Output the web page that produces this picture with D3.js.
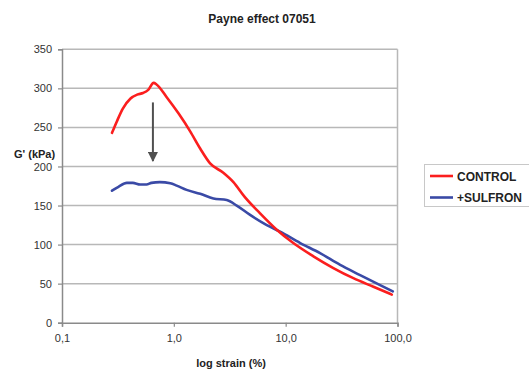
<!DOCTYPE html>
<html><head><meta charset="utf-8">
<script src="https://cdn.jsdelivr.net/npm/d3@7"></script>
<style>body{margin:0;background:#fff}svg{display:block}text{font-family:"Liberation Sans",Arial,sans-serif}</style>
</head><body>
<script>
const title = "Payne effect 07051";
const yLabel = "G' (kPa)";
const xLabel = "log strain (%)";
const xTicks = [0.1, 1, 10, 100];
const xTickLabels = ["0,1", "1,0", "10,0", "100,0"];
const yTicks = [0, 50, 100, 150, 200, 250, 300, 350];
const seriesNames = ["CONTROL", "+SULFRON"];
const seriesColors = ["#fb1e1e", "#3a4aa6"];

const controlStrain = [0.28,0.31,0.35,0.41,0.47,0.53,0.59,0.66,0.70,0.86,1.10,1.40,1.72,2.11,2.77,3.41,4.3,5.9,8.32,11.7,17.7,26.7,40.3,60.9,88.9];
const controlG = [243,258,274,287,292,294,298,307,305,289,268,245,223,204,192,180,161,140,119,102,85,70,57,46,36];
const sulfronStrain = [0.28,0.32,0.38,0.43,0.50,0.57,0.63,0.75,0.93,1.06,1.30,1.72,2.26,2.97,3.65,4.81,6.78,8.91,13.5,20.3,30.7,46.3,69.9,90.8];
const sulfronG = [169,174,179,179,177,177,179,180,178.5,175.5,170,165,159,157,150,138,125,116.5,102,89,74,61,48,40];
const arrowFrom = [0.65, 282];
const arrowTo = [0.65, 207];

const W = 529, H = 372;
const m = {l: 62, r: 397.5, t: 49.3, b: 322.7};
const svg = d3.select("body").append("svg").attr("width", W).attr("height", H);

const x = d3.scaleLog().domain([0.1, 100]).range([m.l, m.r]);
const y = d3.scaleLinear().domain([0, 350]).range([m.b, m.t]);

// gridlines
svg.append("g").selectAll("line").data(yTicks.filter(d => d > 0)).join("line")
  .attr("x1", m.l).attr("x2", m.r).attr("y1", d => y(d)).attr("y2", d => y(d))
  .attr("stroke", "#b8b8b8").attr("stroke-width", 1.5);
// right border
svg.append("line").attr("x1", m.r).attr("x2", m.r).attr("y1", m.t).attr("y2", m.b)
  .attr("stroke", "#b8b8b8").attr("stroke-width", 1.5);

// axes
const yAxis = svg.append("g").attr("transform", `translate(${m.l},0)`)
  .call(d3.axisLeft(y).tickValues(yTicks).tickSize(4).tickPadding(6).tickFormat(d3.format("d")));
const xAxis = svg.append("g").attr("transform", `translate(0,${m.b})`)
  .call(d3.axisBottom(x).tickValues(xTicks).tickSize(4).tickPadding(8).tickFormat((d, i) => xTickLabels[i]));
[yAxis, xAxis].forEach(a => {
  a.select(".domain").attr("stroke", "#8a8a8a").attr("stroke-width", 1.5);
  a.selectAll(".tick line").attr("stroke", "#8a8a8a").attr("stroke-width", 1.2);
  a.selectAll("text").attr("font-size", 11).attr("fill", "#333");
});

// series
const line = d3.line().x(d => x(d[0])).y(d => y(d[1])).curve(d3.curveMonotoneX);
const series = [d3.zip(controlStrain, controlG), d3.zip(sulfronStrain, sulfronG)];
[1, 0].forEach(i => {
  svg.append("path").datum(series[i]).attr("d", line).attr("fill", "none")
    .attr("stroke", seriesColors[i]).attr("stroke-width", 2.6)
    .attr("stroke-linejoin", "round").attr("stroke-linecap", "round");
});

// arrow
const defs = svg.append("defs");
defs.append("marker").attr("id", "ah").attr("viewBox", "0 0 10 10").attr("refX", 9).attr("refY", 5)
  .attr("markerWidth", 5).attr("markerHeight", 5).attr("orient", "auto").attr("markerUnits", "strokeWidth")
  .append("path").attr("d", "M0,0 L10,5 L0,10 Z").attr("fill", "#505050");
svg.append("line").attr("x1", x(arrowFrom[0])).attr("y1", y(arrowFrom[1]))
  .attr("x2", x(arrowTo[0])).attr("y2", y(arrowTo[1]))
  .attr("stroke", "#505050").attr("stroke-width", 2).attr("marker-end", "url(#ah)");

// title and labels
svg.append("text").attr("x", 262).attr("y", 23).attr("text-anchor", "middle")
  .attr("font-size", 12).attr("font-weight", "bold").attr("fill", "#222").text(title);
svg.append("text").attr("x", 14).attr("y", 158).attr("font-size", 11)
  .attr("font-weight", "bold").attr("fill", "#222").text(yLabel);
svg.append("text").attr("x", 231).attr("y", 367).attr("text-anchor", "middle")
  .attr("font-size", 11).attr("font-weight", "bold").attr("fill", "#222").text(xLabel);

// legend
const lg = svg.append("g");
lg.append("rect").attr("x", 424.5).attr("y", 164.5).attr("width", 120).attr("height", 42)
  .attr("fill", "#fff").attr("stroke", "#c8c8c8");
seriesNames.forEach((n, i) => {
  const yy = 176 + i * 21.5;
  lg.append("line").attr("x1", 430).attr("x2", 453).attr("y1", yy).attr("y2", yy)
    .attr("stroke", seriesColors[i]).attr("stroke-width", 2.6);
  lg.append("text").attr("x", 457).attr("y", yy + 4.5).attr("font-size", 12)
    .attr("font-weight", "bold").attr("fill", "#222").text(n);
});
</script>
</body></html>
